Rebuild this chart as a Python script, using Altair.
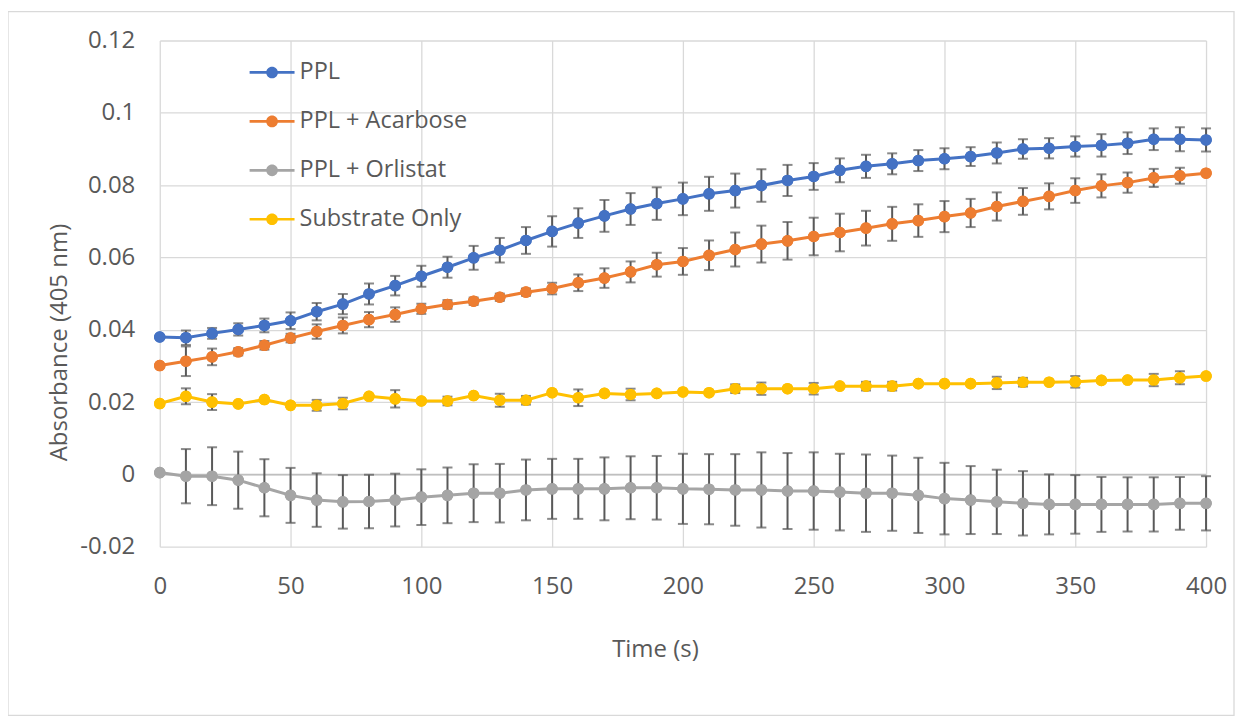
import altair as alt
import pandas as pd

times = [0, 10, 20, 30, 40, 50, 60, 70, 80, 90, 100, 110, 120, 130, 140, 150, 160, 170, 180, 190, 200,
         210, 220, 230, 240, 250, 260, 270, 280, 290, 300, 310, 320, 330, 340, 350, 360, 370, 380, 390, 400]

series_names = ["PPL", "PPL + Acarbose", "PPL + Orlistat", "Substrate Only"]
series_colors = ["#4472C4", "#ED7D31", "#A5A5A5", "#FFC000"]

ppl = [0.0380, 0.0378, 0.0390, 0.0401, 0.0412, 0.0425, 0.0450, 0.0471, 0.0499, 0.0522, 0.0548,
       0.0573, 0.0599, 0.0620, 0.0647, 0.0672, 0.0695, 0.0715, 0.0734, 0.0749, 0.0762,
       0.0776, 0.0785, 0.0799, 0.0813, 0.0824, 0.0841, 0.0852, 0.0859, 0.0868, 0.0873,
       0.0879, 0.0889, 0.0900, 0.0902, 0.0907, 0.0910, 0.0916, 0.0927, 0.0927, 0.0925]
ppl_err = [0.0, 0.0020, 0.0015, 0.0017, 0.0019, 0.0023, 0.0024, 0.0028, 0.0029, 0.0027, 0.0029,
           0.0029, 0.0033, 0.0034, 0.0037, 0.0042, 0.0041, 0.0044, 0.0044, 0.0045, 0.0045,
           0.0047, 0.0047, 0.0045, 0.0043, 0.0037, 0.0033, 0.0032, 0.0029, 0.0029, 0.0029,
           0.0026, 0.0029, 0.0027, 0.0028, 0.0028, 0.0031, 0.0030, 0.0030, 0.0033, 0.0032]

acarbose = [0.0301, 0.0313, 0.0325, 0.0339, 0.0357, 0.0377, 0.0395, 0.0412, 0.0428, 0.0442, 0.0458,
            0.0470, 0.0479, 0.0490, 0.0504, 0.0514, 0.0530, 0.0543, 0.0560, 0.0580, 0.0589,
            0.0606, 0.0622, 0.0637, 0.0646, 0.0658, 0.0669, 0.0681, 0.0693, 0.0702, 0.0713,
            0.0723, 0.0741, 0.0755, 0.0769, 0.0785, 0.0798, 0.0807, 0.0820, 0.0826, 0.0833]
acarbose_err = [0.0, 0.0041, 0.0023, 0.0010, 0.0012, 0.0012, 0.0020, 0.0022, 0.0021, 0.0020, 0.0014,
                0.0012, 0.0010, 0.0010, 0.0010, 0.0016, 0.0023, 0.0027, 0.0029, 0.0033, 0.0037,
                0.0041, 0.0047, 0.0051, 0.0052, 0.0052, 0.0052, 0.0048, 0.0047, 0.0045, 0.0043,
                0.0039, 0.0039, 0.0037, 0.0036, 0.0034, 0.0032, 0.0028, 0.0025, 0.0022, 0.0]

orlistat = [0.0005, -0.0005, -0.0005, -0.0016, -0.0037, -0.0058, -0.0071, -0.0076, -0.0075, -0.0071, -0.0063,
            -0.0058, -0.0052, -0.0052, -0.0043, -0.0040, -0.0040, -0.0040, -0.0037, -0.0037, -0.0040,
            -0.0041, -0.0043, -0.0043, -0.0046, -0.0046, -0.0049, -0.0052, -0.0052, -0.0058, -0.0067,
            -0.0071, -0.0076, -0.0080, -0.0083, -0.0083, -0.0083, -0.0083, -0.0083, -0.0080, -0.0080]
orlistat_err = [0.0, 0.0075, 0.0080, 0.0079, 0.0079, 0.0076, 0.0074, 0.0074, 0.0074, 0.0073, 0.0077,
                0.0077, 0.0080, 0.0081, 0.0084, 0.0083, 0.0083, 0.0087, 0.0087, 0.0088, 0.0097,
                0.0097, 0.0099, 0.0104, 0.0105, 0.0107, 0.0106, 0.0107, 0.0104, 0.0104, 0.0099,
                0.0094, 0.0089, 0.0089, 0.0083, 0.0081, 0.0076, 0.0075, 0.0075, 0.0073, 0.0075]

substrate = [0.0196, 0.0216, 0.0200, 0.0195, 0.0207, 0.0191, 0.0191, 0.0196, 0.0216, 0.0209, 0.0203,
             0.0203, 0.0218, 0.0205, 0.0205, 0.0226, 0.0212, 0.0224, 0.0221, 0.0224, 0.0228,
             0.0226, 0.0237, 0.0237, 0.0237, 0.0237, 0.0244, 0.0244, 0.0244, 0.0251, 0.0251,
             0.0251, 0.0253, 0.0255, 0.0255, 0.0256, 0.0260, 0.0261, 0.0261, 0.0267, 0.0272]
substrate_err = [0.0, 0.0022, 0.0022, 0.0, 0.0, 0.0, 0.0015, 0.0016, 0.0, 0.0024, 0.0,
                 0.0012, 0.0, 0.0018, 0.0012, 0.0, 0.0023, 0.0, 0.0016, 0.0, 0.0,
                 0.0, 0.0012, 0.0017, 0.0, 0.0016, 0.0, 0.0012, 0.0012, 0.0, 0.0,
                 0.0, 0.0017, 0.0012, 0.0, 0.0016, 0.0, 0.0, 0.0017, 0.0018, 0.0]

x_ticks = [0, 50, 100, 150, 200, 250, 300, 350, 400]
y_ticks = [-0.02, 0.0, 0.02, 0.04, 0.06, 0.08, 0.1, 0.12]

rows = []
for name, vals, errs in zip(series_names,
                            [ppl, acarbose, orlistat, substrate],
                            [ppl_err, acarbose_err, orlistat_err, substrate_err]):
    for t, v, e in zip(times, vals, errs):
        rows.append({"time": t, "value": v, "err": e, "series": name,
                     "lo": v - e, "hi": v + e})
df = pd.DataFrame(rows)

FONT = "Open Sans"
TXT = "#595959"
FS = 24
W, H = 1048, 507

# legend glyph: line segments either side of a filled dot (all filled shapes)
LEGEND_GLYPH = ("M-1,-0.06L-0.2,-0.06L-0.2,0.06L-1,0.06Z"
                "M0.2,-0.06L1,-0.06L1,0.06L0.2,0.06Z"
                "M-0.26,0A0.26,0.26,0,1,1,0.26,0A0.26,0.26,0,1,1,-0.26,0Z")

x_enc = alt.X("time:Q", scale=alt.Scale(domain=[0, 400], nice=False),
              axis=alt.Axis(values=x_ticks, title="Time (s)", grid=True, labelFlush=False,
                            labelPadding=28, titleX=496, titleY=103,
                            titleAlign="center", titleBaseline="middle"))
y_enc = alt.Y("value:Q", scale=alt.Scale(domain=[-0.02, 0.12], nice=False, zero=False),
              axis=alt.Axis(values=y_ticks, title="Absorbance (405 nm)", grid=True,
                            labelFlush=False, labelPadding=25, titleX=-100, titleY=302,
                            titleAlign="center", titleBaseline="middle",
                            labelExpr="replace(format(datum.value, '~g'), '\u2212', '-')"))

color_scale = alt.Scale(domain=series_names, range=series_colors)
the_legend = alt.Legend(
    title=None, orient="none", legendX=90, legendY=9.5, padding=0,
    symbolType=LEGEND_GLYPH, symbolSize=2025, symbolStrokeWidth=0,
    rowPadding=15, labelOffset=5, symbolOpacity=1, labelLimit=500,
    labelFontSize=23.5, labelColor=TXT, labelFont=FONT,
)
color_enc = alt.Color("series:N", scale=color_scale, legend=the_legend)

base = alt.Chart(df)

frame = alt.Chart(alt.Data(values=[{"k": 0}])).mark_rect(
    fill="transparent", stroke="#d9d9d9", strokeWidth=1.3
).encode(x=alt.value(-152), x2=alt.value(1076), y=alt.value(-29), y2=alt.value(676))

zero_line = alt.Chart(alt.Data(values=[{"k": 0}])).mark_rule(
    color="#bfbfbf", strokeWidth=1.3
).encode(y=alt.datum(0))

err_df = base.transform_filter("datum.err > 0")
err_rule = err_df.mark_rule(color="#595959", strokeWidth=2).encode(
    x="time:Q", y="lo:Q", y2="hi:Q")
cap_lo = err_df.mark_tick(color="#595959", orient="horizontal", size=10, thickness=2).encode(
    x="time:Q", y="lo:Q")
cap_hi = err_df.mark_tick(color="#595959", orient="horizontal", size=10, thickness=2).encode(
    x="time:Q", y="hi:Q")

points = base.mark_circle(size=135, opacity=1).encode(x=x_enc, y=y_enc, color=color_enc)
lines = base.mark_line(strokeWidth=3).encode(
    x="time:Q", y="value:Q", color=color_enc, detail="series:N")

chart = alt.layer(points, frame, zero_line, err_rule, cap_lo, cap_hi, lines, points).properties(
    width=W, height=H,
    autosize=alt.AutoSizeParams(type="none"),
    padding={"left": 152, "top": 32, "right": 30, "bottom": 170},
).configure(font=FONT).configure_view(stroke=None).configure_axis(
    domain=False, ticks=False, tickSize=0, gridColor="#d9d9d9", gridWidth=1.3,
    labelFont=FONT, labelFontSize=FS, labelColor=TXT,
    titleFont=FONT, titleFontSize=FS, titleColor=TXT, titleFontWeight="normal",
)

chart.save("out.html", embed_options={"renderer": "svg", "actions": False})
